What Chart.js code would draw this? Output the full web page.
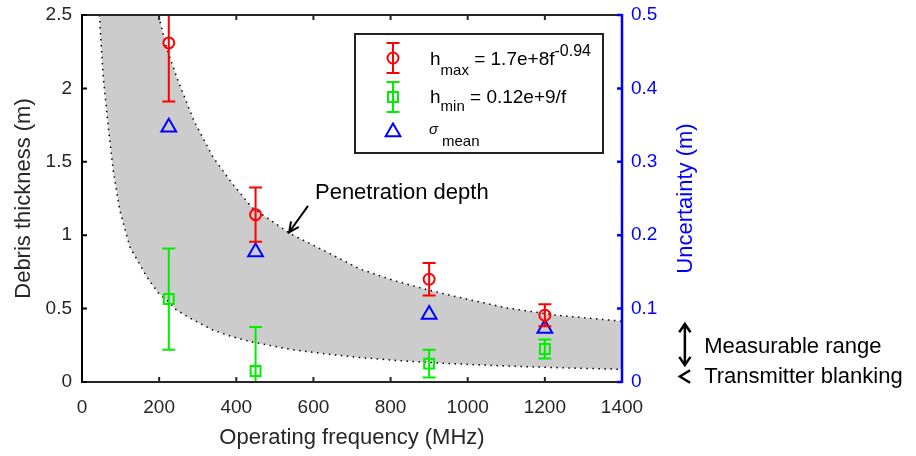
<!DOCTYPE html>
<html>
<head>
<meta charset="utf-8">
<script src="https://cdn.jsdelivr.net/npm/chart.js@4.4.1/dist/chart.umd.min.js"></script>
<style>
  html, body { margin: 0; padding: 0; background: #fff; }
</style>
</head>
<body>
<canvas id="chart" width="916" height="456"></canvas>
<script>
const FONT = "'Liberation Sans', Arial, Helvetica, sans-serif";

// measured radar frequencies (MHz)
const freqs = [225, 450, 900, 1200];
// maximum detectable debris thickness and its error (m)
const hmaxVals = [2.31, 1.14, 0.70, 0.455];
const hmaxErr = [0.40, 0.185, 0.11, 0.075];
// minimum detectable debris thickness and its error (m)
const hminVals = [0.565, 0.075, 0.125, 0.225];
const hminErr = [0.345, 0.30, 0.095, 0.065];
// mean uncertainty, right-hand axis (m)
const sigmaMean = [0.347, 0.177, 0.092, 0.073];

// penetration depth band: upper / lower edge (m) at these frequencies (MHz)
const bandFreq  = [45, 55, 68, 81, 98, 124, 168, 198, 220, 245, 290, 340, 390, 440, 540, 635, 720, 810, 900, 980, 1100, 1230, 1400];
const bandUpper = [2.5, 2.5, 2.5, 2.5, 2.5, 2.5, 2.5, 2.5, 2.27, 2.08, 1.78, 1.53, 1.35, 1.19, 1.01, 0.885, 0.77, 0.69, 0.625, 0.575, 0.505, 0.455, 0.414];
const bandLower = [2.5, 2.08, 1.74, 1.44, 1.17, 0.92, 0.716, 0.606, 0.557, 0.49, 0.421, 0.353, 0.308, 0.273, 0.222, 0.19, 0.167, 0.148, 0.133, 0.122, 0.109, 0.098, 0.086];

// axis ticks
const xTicks = [0, 200, 400, 600, 800, 1000, 1200, 1400];
const yTicks = [0, 0.5, 1, 1.5, 2, 2.5];
const y2Ticks = [0, 0.1, 0.2, 0.3, 0.4, 0.5];

const RED = '#ff0000', GREEN = '#00ee00', BLUE = '#0000ff', INK = '#262626';
const CAP = 6.5;

const pts = (xs, ys) => xs.map((x, i) => ({ x: x, y: ys[i] }));
const setTicks = vals => scale => { scale.ticks = vals.map(v => ({ value: v })); };
// fixed axis box size, no extra label padding pushed onto the plot area
const fixSize = (prop, px) => s => {
  s[prop] = px;
  s.paddingTop = s.paddingBottom = s.paddingLeft = s.paddingRight = 0;
};

// small marker painter used by the legend
function marker(ctx, style, x, y, r) {
  ctx.beginPath();
  if (style === 'circle') {
    ctx.arc(x, y, r, 0, Math.PI * 2);
  } else if (style === 'rect') {
    const s = r * Math.SQRT1_2;
    ctx.rect(x - s, y - s, 2 * s, 2 * s);
  } else {
    ctx.moveTo(x, y - r);
    ctx.lineTo(x + r * Math.sin(Math.PI * 2 / 3), y + r / 2);
    ctx.lineTo(x - r * Math.sin(Math.PI * 2 / 3), y + r / 2);
    ctx.closePath();
  }
  ctx.stroke();
}

// vertical error bars with caps, clipped to the plot
const errorBars = {
  id: 'errorBars',
  afterDatasetsDraw(chart) {
    const { ctx, chartArea: a } = chart;
    ctx.save();
    ctx.beginPath();
    ctx.rect(a.left, a.top, a.right - a.left, a.bottom - a.top);
    ctx.clip();
    chart.data.datasets.forEach(ds => {
      if (!ds.errors) return;
      const xs = chart.scales.x, ys = chart.scales[ds.yAxisID || 'y'];
      ctx.strokeStyle = ds.borderColor;
      ctx.lineWidth = 2;
      ds.data.forEach((p, j) => {
        const px = xs.getPixelForValue(p.x);
        const lo = ys.getPixelForValue(p.y - ds.errors[j]);
        const hi = ys.getPixelForValue(p.y + ds.errors[j]);
        ctx.beginPath();
        ctx.moveTo(px, lo); ctx.lineTo(px, hi);
        ctx.moveTo(px - CAP, lo); ctx.lineTo(px + CAP, lo);
        ctx.moveTo(px - CAP, hi); ctx.lineTo(px + CAP, hi);
        ctx.stroke();
      });
    });
    ctx.restore();
  }
};

// box axes with inward tick marks, right axis in blue
const axisFrame = {
  id: 'axisFrame',
  afterDatasetsDraw(chart) {
    const { ctx, chartArea: a, scales } = chart;
    const T = 5;
    ctx.save();
    ctx.lineCap = 'butt';
    ctx.strokeStyle = INK;
    ctx.lineWidth = 2;
    ctx.beginPath();
    ctx.moveTo(a.left, a.bottom); ctx.lineTo(a.right, a.bottom);
    ctx.moveTo(a.left, a.top); ctx.lineTo(a.right, a.top);
    scales.x.ticks.forEach(t => {
      const px = scales.x.getPixelForValue(t.value);
      ctx.moveTo(px, a.bottom); ctx.lineTo(px, a.bottom - T);
      ctx.moveTo(px, a.top); ctx.lineTo(px, a.top + T);
    });
    ctx.stroke();

    ctx.strokeStyle = '#000';
    ctx.beginPath();
    ctx.moveTo(a.left, a.top - 1); ctx.lineTo(a.left, a.bottom + 1);
    scales.y.ticks.forEach(t => {
      const py = scales.y.getPixelForValue(t.value);
      ctx.moveTo(a.left, py); ctx.lineTo(a.left + T, py);
    });
    ctx.stroke();

    ctx.strokeStyle = BLUE;
    ctx.lineWidth = 2.5;
    ctx.beginPath();
    ctx.moveTo(a.right, a.top - 1); ctx.lineTo(a.right, a.bottom + 1);
    scales.y2.ticks.forEach(t => {
      const py = scales.y2.getPixelForValue(t.value);
      ctx.moveTo(a.right, py); ctx.lineTo(a.right - T, py);
    });
    ctx.stroke();
    ctx.restore();
  }
};

function arrowHead(ctx, tx, ty, ang, len, spread) {
  ctx.moveTo(tx + len * Math.cos(ang - spread), ty + len * Math.sin(ang - spread));
  ctx.lineTo(tx, ty);
  ctx.lineTo(tx + len * Math.cos(ang + spread), ty + len * Math.sin(ang + spread));
}

// right-axis title, text notes and the legend
const decorations = {
  id: 'decorations',
  afterDraw(chart) {
    const { ctx, scales } = chart;
    const X = v => scales.x.getPixelForValue(v);
    const Y = v => scales.y.getPixelForValue(v);
    const Y2 = v => scales.y2.getPixelForValue(v);
    ctx.save();

    // right axis title, reading bottom to top
    ctx.save();
    ctx.translate(scales.y2.left + 64, (chart.chartArea.top + chart.chartArea.bottom) / 2);
    ctx.rotate(-Math.PI / 2);
    ctx.fillStyle = BLUE;
    ctx.font = '22px ' + FONT;
    ctx.textAlign = 'center';
    ctx.textBaseline = 'middle';
    ctx.fillText('Uncertainty (m)', 0, 0);
    ctx.restore();

    // penetration depth note
    ctx.fillStyle = '#000';
    ctx.strokeStyle = '#000';
    ctx.font = '22px ' + FONT;
    ctx.textAlign = 'left';
    ctx.textBaseline = 'alphabetic';
    ctx.fillText('Penetration depth', X(604), Y(1.245));
    ctx.lineWidth = 2;
    ctx.beginPath();
    const tx = X(537), ty = Y(1.02), sx = X(586), sy = Y(1.2);
    ctx.moveTo(sx, sy); ctx.lineTo(tx, ty);
    arrowHead(ctx, tx, ty, Math.atan2(sy - ty, sx - tx), 11, 0.45);
    ctx.stroke();

    // measurable range / transmitter blanking notes beside the right axis
    const ax = X(1563);
    ctx.lineWidth = 2.5;
    ctx.beginPath();
    const top = Y2(0.079), bot = Y2(0.023);
    ctx.moveTo(ax, top); ctx.lineTo(ax, bot);
    arrowHead(ctx, ax, top, Math.PI / 2, 10, 0.6);
    arrowHead(ctx, ax, bot, -Math.PI / 2, 10, 0.6);
    ctx.stroke();
    ctx.beginPath();
    arrowHead(ctx, X(1550), Y2(0.0075), 0, 12, 0.55);
    ctx.stroke();
    ctx.fillText('Measurable range', X(1613), Y2(0.039));
    ctx.fillText('Transmitter blanking', X(1613), Y2(-0.002));

    // legend box
    ctx.fillStyle = '#fff';
    ctx.fillRect(355, 34, 248, 119);
    ctx.strokeStyle = '#222';
    ctx.lineWidth = 2;
    ctx.strokeRect(355, 34, 248, 119);

    const ix = 393;
    ctx.lineWidth = 2;
    [[RED, 'circle', 58, 5.5], [GREEN, 'rect', 97, 7]].forEach(([c, s, cy, r]) => {
      ctx.strokeStyle = c;
      ctx.beginPath();
      ctx.moveTo(ix, cy - 15); ctx.lineTo(ix, cy + 15);
      ctx.moveTo(ix - CAP, cy - 15); ctx.lineTo(ix + CAP, cy - 15);
      ctx.moveTo(ix - CAP, cy + 15); ctx.lineTo(ix + CAP, cy + 15);
      ctx.stroke();
      marker(ctx, s, ix, cy, r);
    });
    ctx.strokeStyle = BLUE;
    marker(ctx, 'triangle', ix, 132, 8.5);

    // legend labels with sub/superscripts
    ctx.fillStyle = '#000';
    const run = (parts, x) => {
      parts.forEach(([txt, size, base]) => {
        ctx.font = size + 'px ' + FONT;
        ctx.fillText(txt, x, base);
        x += ctx.measureText(txt).width;
      });
    };
    run([['h', 19, 65], ['max', 15, 75], [' = 1.7e+8f', 19, 65], ['-0.94', 16, 56]], 430);
    run([['h', 19, 103], ['min', 15, 111], [' = 0.12e+9/f', 19, 103]], 430);
    ctx.font = 'italic 15px ' + FONT;
    ctx.fillText('\u03c3', 429, 134);
    ctx.font = '15px ' + FONT;
    ctx.fillText('mean', 442, 146);
    ctx.restore();
  }
};

const dotted = { borderColor: '#000', borderWidth: 1.5, borderDash: [1.5, 4.5], pointRadius: 0, tension: 0 };
const hollow = { pointBorderWidth: 2, pointBackgroundColor: 'rgba(0,0,0,0)', order: 0 };

new Chart(document.getElementById('chart'), {
  type: 'scatter',
  data: {
    datasets: [
      // band is drawn first (highest order), markers on top
      Object.assign({ label: 'band upper', data: pts(bandFreq, bandUpper), showLine: true,
        fill: '+1', backgroundColor: '#cccccc', order: 20 }, dotted),
      Object.assign({ label: 'band lower', data: pts(bandFreq, bandLower), showLine: true,
        fill: false, order: 19 }, dotted),
      Object.assign({ label: 'hmax', data: pts(freqs, hmaxVals), errors: hmaxErr, pointStyle: 'circle',
        pointRadius: 5.5, borderColor: RED }, hollow),
      Object.assign({ label: 'hmin', data: pts(freqs, hminVals), errors: hminErr, pointStyle: 'rect',
        pointRadius: 7, borderColor: GREEN }, hollow),
      Object.assign({ label: 'sigma', data: pts(freqs, sigmaMean), yAxisID: 'y2', pointStyle: 'triangle',
        pointRadius: 8.5, borderColor: BLUE }, hollow)
    ]
  },
  options: {
    responsive: false,
    animation: false,
    events: [],
    layout: { padding: { top: 15, left: 0, right: 0, bottom: 0 } },
    plugins: { legend: { display: false }, tooltip: { enabled: false } },
    scales: {
      x: {
        type: 'linear', min: 0, max: 1400,
        afterBuildTicks: setTicks(xTicks),
        grid: { display: false, drawTicks: false },
        border: { display: false },
        ticks: { font: { family: FONT, size: 19 }, color: INK, padding: 14, maxRotation: 0, callback: v => String(v) },
        title: { display: true, text: 'Operating frequency (MHz)', color: INK,
          font: { family: FONT, size: 22 }, padding: { top: 0, bottom: 5 } },
        afterFit: fixSize('height', 74)
      },
      y: {
        position: 'left', min: 0, max: 2.5,
        afterBuildTicks: setTicks(yTicks),
        grid: { display: false, drawTicks: false },
        border: { display: false },
        ticks: { font: { family: FONT, size: 19 }, color: INK, padding: 10, callback: v => String(v) },
        title: { display: true, text: 'Debris thickness (m)', color: INK,
          font: { family: FONT, size: 22 }, padding: { top: 11, bottom: 0 } },
        afterFit: fixSize('width', 82)
      },
      y2: {
        position: 'right', min: 0, max: 0.5,
        afterBuildTicks: setTicks(y2Ticks),
        grid: { display: false, drawTicks: false },
        border: { display: false },
        ticks: { font: { family: FONT, size: 19 }, color: BLUE, padding: 9, callback: v => String(v) },
        afterFit: fixSize('width', 294)
      }
    }
  },
  plugins: [errorBars, axisFrame, decorations]
});
</script>
</body>
</html>
